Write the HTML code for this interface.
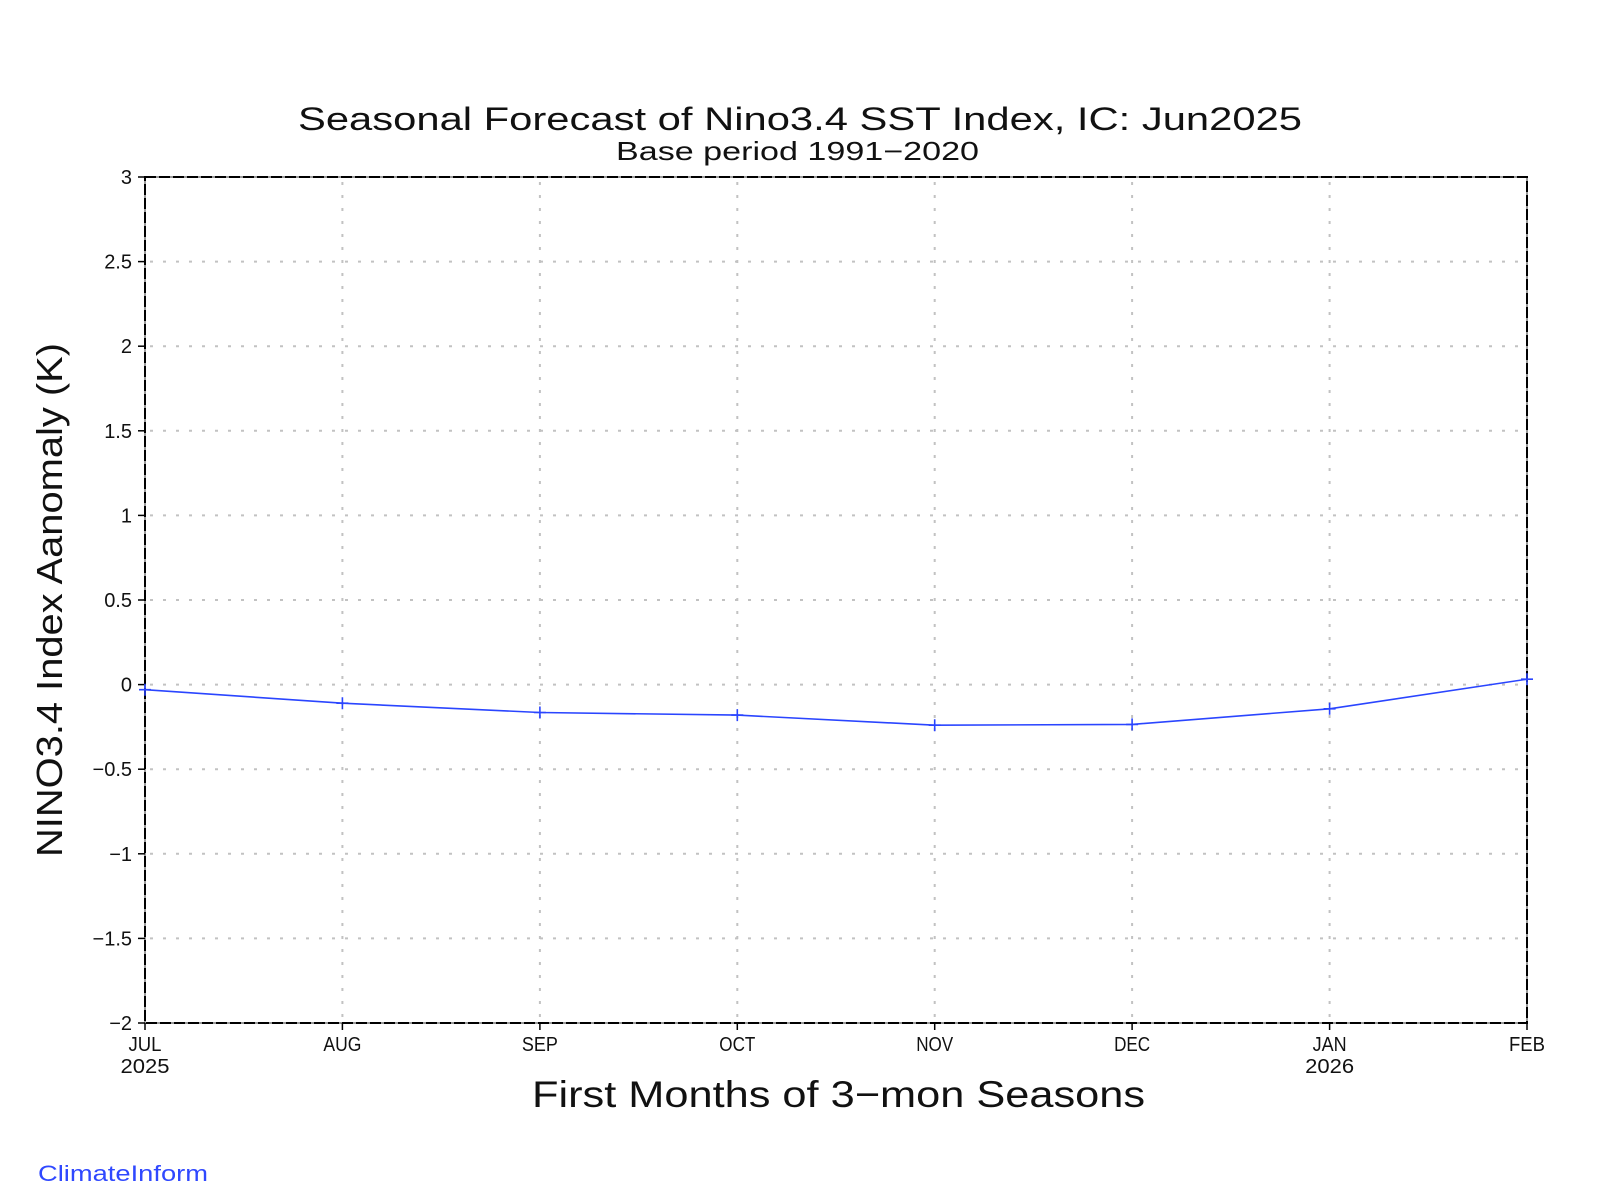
<!DOCTYPE html>
<html>
<head>
<meta charset="utf-8">
<style>
  html,body{margin:0;padding:0;background:#fff;}
  svg{display:block;}
  text{font-family:"Liberation Sans", sans-serif; fill:#111;}
</style>
</head>
<body>
<svg width="1600" height="1200" viewBox="0 0 1600 1200" xmlns="http://www.w3.org/2000/svg">
  <rect x="0" y="0" width="1600" height="1200" fill="#fff"/>

  <!-- Title -->
  <text x="298" y="130" font-size="32" textLength="1004" lengthAdjust="spacingAndGlyphs">Seasonal Forecast of Nino3.4 SST Index, IC: Jun2025</text>
  <text x="616" y="160" font-size="26" textLength="363" lengthAdjust="spacingAndGlyphs">Base period 1991−2020</text>

  <!-- Horizontal dotted grid -->
  <g stroke="#c2c2c2" stroke-width="2" stroke-dasharray="3 10" fill="none">
    <line x1="150" y1="261.6" x2="1522" y2="261.6"/>
    <line x1="150" y1="346.2" x2="1522" y2="346.2"/>
    <line x1="150" y1="430.8" x2="1522" y2="430.8"/>
    <line x1="150" y1="515.4" x2="1522" y2="515.4"/>
    <line x1="150" y1="600.0" x2="1522" y2="600.0"/>
    <line x1="150" y1="684.6" x2="1522" y2="684.6"/>
    <line x1="150" y1="769.2" x2="1522" y2="769.2"/>
    <line x1="150" y1="853.8" x2="1522" y2="853.8"/>
    <line x1="150" y1="938.4" x2="1522" y2="938.4"/>
  </g>
  <!-- Vertical dotted grid -->
  <g stroke="#c2c2c2" stroke-width="2" stroke-dasharray="3 10" fill="none">
    <line x1="342.4" y1="182" x2="342.4" y2="1020"/>
    <line x1="539.9" y1="182" x2="539.9" y2="1020"/>
    <line x1="737.3" y1="182" x2="737.3" y2="1020"/>
    <line x1="934.7" y1="182" x2="934.7" y2="1020"/>
    <line x1="1132.1" y1="182" x2="1132.1" y2="1020"/>
    <line x1="1329.6" y1="182" x2="1329.6" y2="1020"/>
  </g>

  <!-- Frame -->
  <rect x="145" y="177" width="1382" height="846" fill="none" stroke="#9a9a9a" stroke-width="2"/>
  <rect x="145" y="177" width="1382" height="846" fill="none" stroke="#000" stroke-width="2" stroke-dasharray="11 3"/>

  <!-- Y ticks -->
  <g stroke="#000" stroke-width="1.5">
    <line x1="138" y1="177" x2="145" y2="177"/>
    <line x1="138" y1="261.6" x2="145" y2="261.6"/>
    <line x1="138" y1="346.2" x2="145" y2="346.2"/>
    <line x1="138" y1="430.8" x2="145" y2="430.8"/>
    <line x1="138" y1="515.4" x2="145" y2="515.4"/>
    <line x1="138" y1="600.0" x2="145" y2="600.0"/>
    <line x1="138" y1="684.6" x2="145" y2="684.6"/>
    <line x1="138" y1="769.2" x2="145" y2="769.2"/>
    <line x1="138" y1="853.8" x2="145" y2="853.8"/>
    <line x1="138" y1="938.4" x2="145" y2="938.4"/>
    <line x1="138" y1="1023" x2="145" y2="1023"/>
  </g>
  <!-- X ticks -->
  <g stroke="#000" stroke-width="1.5">
    <line x1="145" y1="1023" x2="145" y2="1030"/>
    <line x1="342.4" y1="1023" x2="342.4" y2="1030"/>
    <line x1="539.9" y1="1023" x2="539.9" y2="1030"/>
    <line x1="737.3" y1="1023" x2="737.3" y2="1030"/>
    <line x1="934.7" y1="1023" x2="934.7" y2="1030"/>
    <line x1="1132.1" y1="1023" x2="1132.1" y2="1030"/>
    <line x1="1329.6" y1="1023" x2="1329.6" y2="1030"/>
    <line x1="1527" y1="1023" x2="1527" y2="1030"/>
  </g>

  <!-- Y labels -->
  <g font-size="20" text-anchor="end">
    <text x="132" y="184">3</text>
    <text x="132" y="268.6">2.5</text>
    <text x="132" y="353.2">2</text>
    <text x="132" y="437.8">1.5</text>
    <text x="132" y="522.4">1</text>
    <text x="132" y="607">0.5</text>
    <text x="132" y="691.6">0</text>
    <text x="132" y="776.2">−0.5</text>
    <text x="132" y="860.8">−1</text>
    <text x="132" y="945.4">−1.5</text>
    <text x="132" y="1030">−2</text>
  </g>

  <!-- X labels -->
  <g font-size="20" text-anchor="middle">
    <text x="145" y="1051" textLength="33" lengthAdjust="spacingAndGlyphs">JUL</text>
    <text x="145" y="1073" textLength="49" lengthAdjust="spacingAndGlyphs">2025</text>
    <text x="342.4" y="1051" textLength="38" lengthAdjust="spacingAndGlyphs">AUG</text>
    <text x="539.9" y="1051" textLength="36" lengthAdjust="spacingAndGlyphs">SEP</text>
    <text x="737.3" y="1051" textLength="36" lengthAdjust="spacingAndGlyphs">OCT</text>
    <text x="934.7" y="1051" textLength="37" lengthAdjust="spacingAndGlyphs">NOV</text>
    <text x="1132.1" y="1051" textLength="36" lengthAdjust="spacingAndGlyphs">DEC</text>
    <text x="1329.6" y="1051" textLength="34" lengthAdjust="spacingAndGlyphs">JAN</text>
    <text x="1329.6" y="1073" textLength="49" lengthAdjust="spacingAndGlyphs">2026</text>
    <text x="1527" y="1051" textLength="36" lengthAdjust="spacingAndGlyphs">FEB</text>
  </g>

  <!-- Axis titles -->
  <text x="532" y="1107" font-size="37" textLength="613" lengthAdjust="spacingAndGlyphs">First Months of 3−mon Seasons</text>
  <text transform="translate(62,600) rotate(-90)" x="0" y="0" font-size="36" text-anchor="middle" textLength="514" lengthAdjust="spacingAndGlyphs">NINO3.4 Index Aanomaly (K)</text>

  <!-- Data line -->
  <polyline fill="none" stroke="#2a45ff" stroke-width="1.6"
    points="145,689.7 342.4,703.2 539.9,712.5 737.3,715.1 934.7,725.2 1132.1,724.4 1329.6,708.8 1527,679.2"/>
  <g stroke="#2a45ff" stroke-width="1.6">
    <path d="M139 689.7h12M145 683.7v12"/>
    <path d="M336.4 703.2h12M342.4 697.2v12"/>
    <path d="M533.9 712.5h12M539.9 706.5v12"/>
    <path d="M731.3 715.1h12M737.3 709.1v12"/>
    <path d="M928.7 725.2h12M934.7 719.2v12"/>
    <path d="M1126.1 724.4h12M1132.1 718.4v12"/>
    <path d="M1323.6 708.8h12M1329.6 702.8v12"/>
    <path d="M1521 679.2h12M1527 673.2v12"/>
  </g>

  <!-- Footer -->
  <text x="38" y="1181" font-size="22" textLength="170" lengthAdjust="spacingAndGlyphs" style="fill:#2f48ff">ClimateInform</text>
</svg>
</body>
</html>
